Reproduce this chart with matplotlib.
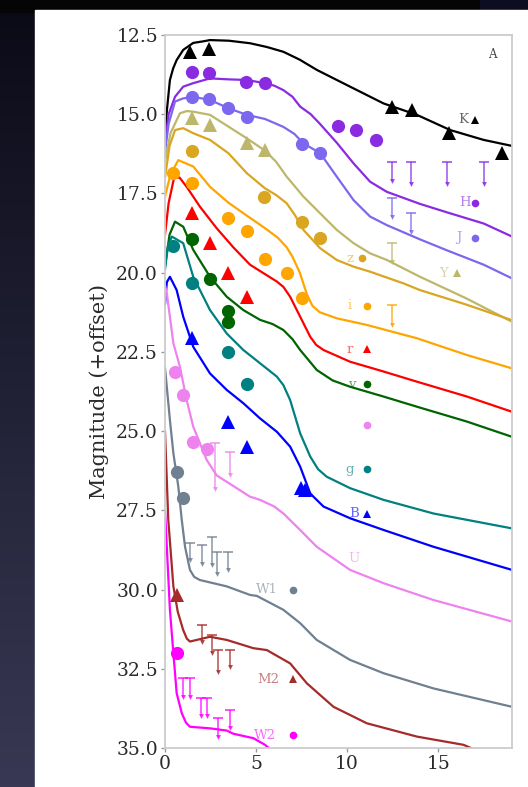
import numpy as np
import matplotlib
matplotlib.use("Agg")
import matplotlib.pyplot as plt
from matplotlib.patches import Rectangle

# ---------------- model light curves (days, magnitude + offset) ----------------
K_t = [0, 0.1, 0.27, 0.45, 0.64, 1.0, 1.55, 2.1, 2.47, 3.5, 4.67, 5.6, 6.5, 7.4, 8.33, 10.16, 12.0, 13.83, 15.66, 17.49, 19.05]
K_m = [15.9, 14.9, 13.92, 13.55, 13.29, 12.97, 12.75, 12.7, 12.66, 12.68, 12.76, 12.88, 13.03, 13.28, 13.6, 14.13, 14.66, 15.02, 15.5, 15.81, 16.0]

H_t = [0, 0.2, 0.55, 1.0, 1.55, 2.47, 3.5, 4.49, 5.49, 6.0, 6.5, 7.0, 7.42, 8.0, 8.5, 9.43, 10.35, 11.26, 12.18, 14.0, 15.5, 17.5, 19.05]
H_m = [15.9, 15.0, 14.45, 14.13, 14.02, 13.87, 13.9, 13.92, 14.02, 14.1, 14.24, 14.45, 14.76, 15.0, 15.3, 15.9, 16.55, 17.13, 17.45, 17.83, 18.1, 18.45, 18.86]

J_t = [0, 0.2, 0.55, 1.0, 1.55, 2.47, 3.48, 4.49, 5.49, 6.5, 7.1, 7.6, 8.52, 9.43, 10.35, 11.26, 12.18, 14.0, 15.5, 17.5, 19.05]
J_m = [16.2, 15.3, 14.6, 14.5, 14.45, 14.55, 14.81, 15.02, 15.15, 15.4, 15.62, 15.92, 16.23, 16.97, 17.71, 18.23, 18.5, 18.95, 19.3, 19.75, 20.18]

Y_t = [0, 0.3, 0.82, 1.2, 1.55, 2.47, 3.48, 4.49, 5.49, 6.1, 6.68, 7.6, 8.52, 9.43, 10.35, 11.26, 12.18, 14.0, 16.5, 19.05]
Y_m = [16.5, 15.6, 14.97, 14.9, 14.92, 15.02, 15.39, 15.76, 16.15, 16.5, 16.97, 17.6, 18.13, 18.65, 19.07, 19.39, 19.6, 20.13, 20.8, 21.55]

z_t = [0, 0.25, 0.55, 1.0, 1.55, 2.47, 3.48, 4.49, 5.49, 6.1, 6.68, 7.15, 7.6, 8.52, 9.43, 10.35, 11.26, 13.1, 14.0, 16.5, 19.05]
z_m = [17.0, 16.0, 15.5, 15.44, 15.6, 15.81, 16.23, 16.86, 17.34, 17.55, 17.81, 18.2, 18.65, 19.23, 19.6, 19.81, 19.97, 20.34, 20.55, 21.0, 21.5]

i_t = [0, 0.3, 0.73, 1.55, 2.47, 3.5, 4.49, 5.5, 6.2, 6.68, 7.0, 7.4, 7.8, 8.1, 8.5, 9.43, 11.08, 13.83, 16.58, 19.05]
i_m = [17.6, 16.9, 16.45, 16.65, 17.29, 17.8, 18.2, 18.6, 18.9, 19.2, 19.5, 20.0, 20.7, 21.05, 21.25, 21.44, 21.65, 22.07, 22.6, 23.02]

r_t = [0, 0.2, 0.5, 0.8, 1.2, 1.92, 2.84, 3.75, 4.67, 5.5, 6.14, 6.5, 6.87, 7.42, 7.97, 8.3, 8.7, 10.16, 12.0, 13.83, 16.58, 19.05]
r_m = [18.8, 17.8, 17.0, 17.0, 17.3, 17.92, 18.6, 19.2, 19.75, 20.05, 20.28, 20.45, 20.76, 21.39, 22.02, 22.28, 22.44, 22.81, 23.12, 23.44, 23.91, 24.39]

v_t = [0, 0.25, 0.55, 1.0, 1.55, 2.47, 3.39, 4.3, 5.22, 5.9, 6.5, 7.0, 7.42, 8.33, 9.2, 10.16, 12.0, 13.83, 16.58, 19.05]
v_m = [19.8, 18.8, 18.39, 18.55, 19.28, 20.13, 20.76, 21.18, 21.49, 21.62, 21.81, 22.1, 22.44, 23.07, 23.4, 23.6, 23.91, 24.23, 24.7, 25.18]

g_t = [0, 0.15, 0.37, 1.0, 1.55, 2.47, 3.39, 4.3, 5.22, 6.14, 6.5, 6.87, 7.42, 7.97, 8.4, 8.88, 10.16, 12.0, 14.74, 19.05]
g_m = [19.9, 19.2, 18.86, 19.07, 20.13, 21.18, 21.92, 22.44, 22.86, 23.28, 23.55, 24.02, 25.07, 25.8, 26.2, 26.44, 26.8, 27.17, 27.6, 28.07]

B_t = [0, 0.1, 0.27, 0.64, 1.0, 1.55, 2.47, 3.39, 4.3, 5.22, 6.14, 6.87, 7.42, 7.97, 8.15, 8.7, 10.16, 12.0, 14.74, 19.05]
B_m = [21.0, 20.3, 20.13, 20.55, 21.39, 22.34, 23.18, 23.7, 24.12, 24.6, 25.02, 25.49, 26.12, 26.96, 27.07, 27.38, 27.75, 28.12, 28.65, 29.38]

U_t = [0, 0.1, 0.46, 0.82, 1.19, 1.55, 2.29, 2.84, 3.39, 4.67, 5.22, 6.0, 6.5, 7.42, 8.33, 10.16, 12.0, 14.74, 19.05]
U_m = [20.4, 20.65, 22.23, 22.97, 24.02, 24.86, 25.91, 26.4, 26.6, 27.07, 27.17, 27.38, 27.6, 28.12, 28.65, 29.38, 29.8, 30.33, 31.01]

W1_t = [0, 0.27, 0.46, 0.73, 0.92, 1.1, 1.37, 1.6, 1.92, 3.39, 4.67, 5.04, 6.5, 7.42, 8.33, 10.16, 12.0, 14.74, 19.05]
W1_m = [23.0, 24.65, 25.7, 26.75, 27.8, 28.65, 29.38, 29.6, 29.7, 29.9, 30.17, 30.2, 30.64, 31.06, 31.59, 32.22, 32.64, 33.12, 33.7]

M2_t = [0, 0.18, 0.46, 0.7, 1.0, 1.2, 1.37, 1.74, 2.47, 3.39, 4.85, 5.59, 6.87, 7.79, 9.25, 11.08, 13.83, 16.39, 17.0]
M2_m = [25.0, 27.8, 29.9, 30.7, 31.28, 31.55, 31.64, 31.59, 31.49, 31.59, 31.85, 31.91, 32.33, 32.96, 33.7, 34.22, 34.64, 34.9, 35.05]

W2_t = [0, 0.27, 0.46, 0.64, 0.92, 1.15, 1.37, 2.47, 3.39, 3.75, 4.85, 5.49, 5.7]
W2_m = [27.5, 30.64, 32.01, 33.27, 33.9, 34.2, 34.33, 34.38, 34.45, 34.55, 34.69, 34.9, 35.0]

# ---------------- photometric detections ----------------
K_obs_t = [1.37, 2.44, 12.45, 13.55, 15.57, 18.5]
K_obs_m = [13.03, 12.95, 14.78, 14.87, 15.6, 16.23]
H_obs_t = [1.46, 2.43, 4.45, 5.49, 9.49, 10.48, 11.58]
H_obs_m = [13.68, 13.71, 13.99, 14.0, 15.37, 15.5, 15.81]
J_obs_t = [1.46, 2.43, 3.48, 4.49, 7.51, 8.52]
J_obs_m = [14.45, 14.52, 14.81, 15.08, 15.95, 16.23]
Y_obs_t = [1.46, 2.47, 4.49, 5.49]
Y_obs_m = [15.13, 15.34, 15.92, 16.13]
z_obs_t = [1.46, 5.44, 7.51, 8.52]
z_obs_m = [16.16, 17.62, 18.39, 18.92]
i_obs_t = [0.46, 1.5, 3.48, 4.49, 5.49, 6.72, 7.51]
i_obs_m = [16.86, 17.16, 18.28, 18.67, 19.58, 20.0, 20.79]
r_obs_t = [1.5, 2.47, 3.44, 4.49]
r_obs_m = [18.13, 19.05, 20.0, 20.76]
v_obs_t = [1.46, 2.47, 3.48, 3.48]
v_obs_m = [18.95, 20.2, 21.2, 21.55]
g_obs_t = [0.42, 1.46, 3.48, 4.5]
g_obs_m = [19.15, 20.33, 22.49, 23.5]
B_obs_t = [1.46, 3.48, 4.49, 7.45, 7.7]
B_obs_m = [22.05, 24.7, 25.49, 26.8, 26.85]
U_obs_t = [0.55, 1.0, 1.52, 2.29]
U_obs_m = [23.12, 23.85, 25.33, 25.56]
W1_obs_t = [0.64, 1.0]
W1_obs_m = [26.28, 27.12]
M2_obs_t = [0.64]
M2_obs_m = [30.17]
W2_obs_t = [0.68]
W2_obs_m = [32.01]

# ---------------- upper limits (value, arrow length) ----------------
H_lim_t = [12.45, 13.5, 15.48, 17.53]
H_lim_m = [16.5, 16.5, 16.5, 16.5]
H_lim_d = [0.6, 0.7, 0.7, 0.7]
J_lim_t = [12.45, 13.5]
J_lim_m = [17.65, 18.13]
J_lim_d = [0.58, 0.58]
Y_lim_t = [12.45]
Y_lim_m = [19.07]
Y_lim_d = [0.58]
i_lim_t = [12.45]
i_lim_m = [21.02]
i_lim_d = [0.63]
U_lim_t = [2.75, 3.55]
U_lim_m = [25.38, 25.65]
U_lim_d = [1.45, 0.75]
W1_lim_t = [1.37, 2.01, 2.56, 2.84, 3.48]
W1_lim_m = [28.54, 28.6, 28.33, 28.8, 28.8]
W1_lim_d = [0.53, 0.6, 0.89, 0.7, 0.58]
M2_lim_t = [2.01, 2.56, 2.93, 3.57]
M2_lim_m = [31.12, 31.43, 31.9, 31.9]
M2_lim_d = [0.52, 0.57, 0.7, 0.53]
W2_lim_t = [1.0, 1.37, 2.0, 2.29, 2.93, 3.57]
W2_lim_m = [32.8, 32.8, 33.42, 33.42, 34.05, 33.8]
W2_lim_d = [0.6, 0.6, 0.58, 0.58, 0.6, 0.57]

# ---------------- band labels ----------------
label_text = ["K", "H", "J", "Y", "z", "i", "r", "v", "g", "B", "U", "W1", "M2", "W2"]
label_text_t = [16.39, 16.48, 16.12, 15.29, 10.16, 10.16, 10.16, 10.26, 10.16, 10.38, 10.38, 5.59, 5.68, 5.49]
label_text_m = [15.18, 17.8, 18.9, 20.02, 19.55, 21.05, 22.42, 23.52, 26.2, 27.6, 29.01, 30.0, 32.83, 34.59]
label_mark_t = [17.03, 17.03, 17.03, 16.02, 10.8, 11.08, 11.08, 11.08, 11.08, 11.08, 11.08, 7.05, 7.05, 7.05]
label_mark_m = [15.18, 17.8, 18.9, 20.02, 19.55, 21.05, 22.42, 23.52, 26.2, 27.6, 24.8, 30.0, 32.83, 34.59]

x_ticks = [0, 5, 10, 15]
y_ticks = [12.5, 15.0, 17.5, 20.0, 22.5, 25.0, 27.5, 30.0, 32.5, 35.0]

bands = {
    "K": dict(c="black", mk="^", t=K_t, m=K_m, ot=K_obs_t, om=K_obs_m),
    "H": dict(c="#8a2be2", mk="o", t=H_t, m=H_m, ot=H_obs_t, om=H_obs_m,
              lt=H_lim_t, lm=H_lim_m, ld=H_lim_d),
    "J": dict(c="#7b68ee", mk="o", t=J_t, m=J_m, ot=J_obs_t, om=J_obs_m,
              lt=J_lim_t, lm=J_lim_m, ld=J_lim_d),
    "Y": dict(c="#bdb76b", mk="^", t=Y_t, m=Y_m, ot=Y_obs_t, om=Y_obs_m,
              lt=Y_lim_t, lm=Y_lim_m, ld=Y_lim_d),
    "z": dict(c="#daa520", mk="o", t=z_t, m=z_m, ot=z_obs_t, om=z_obs_m),
    "i": dict(c="#ffa500", mk="o", t=i_t, m=i_m, ot=i_obs_t, om=i_obs_m,
              lt=i_lim_t, lm=i_lim_m, ld=i_lim_d),
    "r": dict(c="#ff0000", mk="^", t=r_t, m=r_m, ot=r_obs_t, om=r_obs_m),
    "v": dict(c="#006400", mk="o", t=v_t, m=v_m, ot=v_obs_t, om=v_obs_m),
    "g": dict(c="#008080", mk="o", t=g_t, m=g_m, ot=g_obs_t, om=g_obs_m),
    "B": dict(c="#0000ff", mk="^", t=B_t, m=B_m, ot=B_obs_t, om=B_obs_m),
    "U": dict(c="#ee82ee", mk="o", t=U_t, m=U_m, ot=U_obs_t, om=U_obs_m,
              lt=U_lim_t, lm=U_lim_m, ld=U_lim_d),
    "W1": dict(c="#708090", mk="o", t=W1_t, m=W1_m, ot=W1_obs_t, om=W1_obs_m,
               lt=W1_lim_t, lm=W1_lim_m, ld=W1_lim_d),
    "M2": dict(c="#a52a2a", mk="^", t=M2_t, m=M2_m, ot=M2_obs_t, om=M2_obs_m,
               lt=M2_lim_t, lm=M2_lim_m, ld=M2_lim_d),
    "W2": dict(c="#ff00ff", mk="o", t=W2_t, m=W2_m, ot=W2_obs_t, om=W2_obs_m,
               lt=W2_lim_t, lm=W2_lim_m, ld=W2_lim_d),
}

plt.rcParams["font.family"] = ["DejaVu Serif"]

W, H = 528, 787
fig = plt.figure(figsize=(W / 100, H / 100), dpi=100)

# dark backdrop with a bluish gradient on the left and a white panel
bg = fig.add_axes([0, 0, 1, 1])
bg.set_axis_off()
rows = np.linspace(0, 1, 200)[:, None]
top = np.array([0.04, 0.04, 0.09])
bot = np.array([0.22, 0.22, 0.33])
grad = top + (bot - top) * rows
img = np.repeat(grad[:, None, :], 10, axis=1)
bg.imshow(img, extent=[0, 1, 0, 1], aspect="auto", origin="upper")
bg.add_patch(Rectangle((0, 0.985), 1, 0.015, color="#050505"))
bg.add_patch(Rectangle((0.91, 0.987), 0.09, 0.013, color="#0c0c22"))
bg.add_patch(Rectangle((35 / W, 0), 1 - 35 / W, (H - 10) / H, color="white"))
bg.set_xlim(0, 1)
bg.set_ylim(0, 1)

ax = fig.add_axes([165 / W, (H - 748) / H, (512 - 165) / W, (748 - 35) / H])
ax.set_xlim(0, 19.05)
ax.set_ylim(35, 12.5)

for name, b in bands.items():
    ax.plot(b["t"], b["m"], color=b["c"], lw=1.6, zorder=2,
            solid_capstyle="round", solid_joinstyle="round")
    ax.plot(b["ot"], b["om"], ls="none", marker=b["mk"], color=b["c"],
            ms=9.5, mew=0, zorder=3)
    if "lt" in b:
        lt, lm, ld = b["lt"], b["lm"], b["ld"]
        ends = [m + d for m, d in zip(lm, ld)]
        ax.vlines(lt, lm, ends, color=b["c"], lw=1.2, alpha=0.75, zorder=3)
        ax.plot(lt, lm, ls="none", marker="_", ms=7, mew=1.3, color=b["c"],
                alpha=0.75, zorder=3)
        ax.plot(lt, ends, ls="none", marker="v", ms=3.5, mew=0, color=b["c"],
                alpha=0.85, zorder=3)

for k, txt in enumerate(label_text):
    b = bands[txt]
    ax.text(label_text_t[k], label_text_m[k], txt, color=b["c"], alpha=0.6,
            fontsize=9.5, ha="center", va="center", zorder=4)
    ax.plot([label_mark_t[k]], [label_mark_m[k]], ls="none", marker=b["mk"],
            color=b["c"], ms=5.5, mew=0, zorder=4)

ax.text(17.95, 13.13, "A", color="#444444", fontsize=8.5, ha="center", va="center")

ax.set_xticks(x_ticks)
ax.set_yticks(y_ticks)
ax.set_yticklabels([f"{v:.1f}" for v in y_ticks])
ax.tick_params(axis="both", direction="out", length=3, width=1, color="#999999",
               labelsize=13.5, labelcolor="#2a2a2a", pad=2)
for s in ax.spines.values():
    s.set_color("#cccccc")
    s.set_linewidth(1.3)
ax.set_ylabel("Magnitude (+offset)", fontsize=15, color="#2a2a2a", labelpad=5)

fig.savefig("out.png", dpi=100)
